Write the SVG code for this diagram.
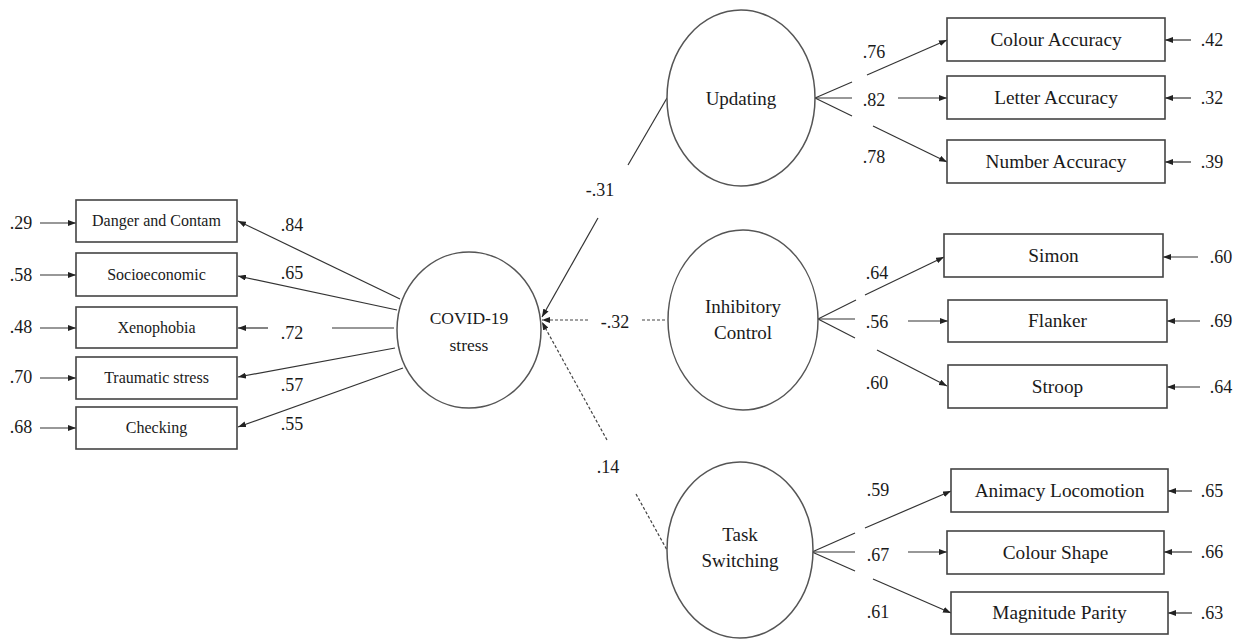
<svg xmlns="http://www.w3.org/2000/svg" width="1242" height="639" viewBox="0 0 1242 639" font-family="'Liberation Serif', 'DejaVu Serif', 'Times New Roman', serif">
<style>
text{font-family:'Liberation Serif','DejaVu Serif','Times New Roman',serif;fill:#1a1a1a;text-anchor:middle;}
.num{font-size:18px;}
.lb{font-size:16px;}
.rb{font-size:19.3px;}
.lat{font-size:19px;}
.box{fill:#fff;stroke:#444;stroke-width:1.6;}
.ell{fill:#fff;stroke:#555;stroke-width:1.5;}
.ln{stroke:#333;stroke-width:1.2;fill:none;}
.dash{stroke:#444;stroke-width:1.2;fill:none;stroke-dasharray:3 2;}
</style>
<defs>
<marker id="ah" markerUnits="userSpaceOnUse" markerWidth="8" markerHeight="6" refX="8" refY="3" orient="auto">
<path d="M0,0 L8,3 L0,6 z" fill="#222"/>
</marker>
</defs>

<g id="connectors">
<line class="ln" x1="40" y1="223" x2="76" y2="223" marker-end="url(#ah)"/>
<line class="ln" x1="40" y1="275" x2="76" y2="275" marker-end="url(#ah)"/>
<line class="ln" x1="40" y1="328" x2="76" y2="328" marker-end="url(#ah)"/>
<line class="ln" x1="40" y1="378" x2="76" y2="378" marker-end="url(#ah)"/>
<line class="ln" x1="40" y1="428" x2="76" y2="428" marker-end="url(#ah)"/>
<line class="ln" x1="400" y1="299" x2="238" y2="221" marker-end="url(#ah)"/>
<line class="ln" x1="397" y1="310" x2="238" y2="276" marker-end="url(#ah)"/>
<line class="ln" x1="394" y1="328" x2="332" y2="328"/>
<line class="ln" x1="268" y1="328" x2="238" y2="328" marker-end="url(#ah)"/>
<line class="ln" x1="395" y1="348" x2="238" y2="377" marker-end="url(#ah)"/>
<line class="ln" x1="403" y1="368" x2="238" y2="427" marker-end="url(#ah)"/>
<line class="ln" x1="667" y1="98" x2="628" y2="165"/>
<line class="ln" x1="598" y1="218" x2="542" y2="317" marker-end="url(#ah)"/>
<line class="dash" x1="588" y1="320" x2="542" y2="320" marker-end="url(#ah)"/>
<line class="dash" x1="642" y1="320" x2="667" y2="320"/>
<line class="dash" x1="607" y1="440" x2="542" y2="322" marker-end="url(#ah)"/>
<line class="dash" x1="636" y1="494" x2="667" y2="550"/>
<line class="ln" x1="815" y1="98" x2="852" y2="82"/>
<line class="ln" x1="867" y1="75" x2="947" y2="40" marker-end="url(#ah)"/>
<line class="ln" x1="815" y1="98" x2="852" y2="98"/>
<line class="ln" x1="898" y1="98" x2="947" y2="98" marker-end="url(#ah)"/>
<line class="ln" x1="815" y1="98" x2="852" y2="116"/>
<line class="ln" x1="873" y1="126" x2="947" y2="162" marker-end="url(#ah)"/>
<line class="ln" x1="818" y1="319" x2="856" y2="300"/>
<line class="ln" x1="865" y1="295" x2="944" y2="257" marker-end="url(#ah)"/>
<line class="ln" x1="818" y1="319" x2="855" y2="319"/>
<line class="ln" x1="908" y1="321" x2="948" y2="321" marker-end="url(#ah)"/>
<line class="ln" x1="818" y1="319" x2="855" y2="338"/>
<line class="ln" x1="877" y1="350" x2="947" y2="386" marker-end="url(#ah)"/>
<line class="ln" x1="812" y1="552" x2="855" y2="533"/>
<line class="ln" x1="865" y1="528" x2="951" y2="491" marker-end="url(#ah)"/>
<line class="ln" x1="812" y1="552" x2="855" y2="552"/>
<line class="ln" x1="908" y1="552" x2="947" y2="552" marker-end="url(#ah)"/>
<line class="ln" x1="812" y1="552" x2="855" y2="571"/>
<line class="ln" x1="873" y1="579" x2="951" y2="613" marker-end="url(#ah)"/>
<line class="ln" x1="1191" y1="40" x2="1165" y2="40" marker-end="url(#ah)"/>
<line class="ln" x1="1191" y1="98" x2="1165" y2="98" marker-end="url(#ah)"/>
<line class="ln" x1="1191" y1="162" x2="1165" y2="162" marker-end="url(#ah)"/>
<line class="ln" x1="1198" y1="257" x2="1163" y2="257" marker-end="url(#ah)"/>
<line class="ln" x1="1200" y1="321" x2="1167" y2="321" marker-end="url(#ah)"/>
<line class="ln" x1="1200" y1="387" x2="1167" y2="387" marker-end="url(#ah)"/>
<line class="ln" x1="1192" y1="491" x2="1168" y2="491" marker-end="url(#ah)"/>
<line class="ln" x1="1192" y1="552" x2="1164" y2="552" marker-end="url(#ah)"/>
<line class="ln" x1="1192" y1="613" x2="1168" y2="613" marker-end="url(#ah)"/>
</g>

<g id="labels">
<text class="num" x="21" y="229">.29</text>
<text class="num" x="21" y="281">.58</text>
<text class="num" x="21" y="333">.48</text>
<text class="num" x="21" y="383">.70</text>
<text class="num" x="21" y="433">.68</text>
<text class="num" x="292" y="231">.84</text>
<text class="num" x="292" y="279">.65</text>
<text class="num" x="292" y="339">.72</text>
<text class="num" x="292" y="391">.57</text>
<text class="num" x="292" y="430">.55</text>
<text class="num" x="600" y="196">-.31</text>
<text class="num" x="615" y="328">-.32</text>
<text class="num" x="608" y="473">.14</text>
<text class="num" x="874" y="58">.76</text>
<text class="num" x="874" y="106">.82</text>
<text class="num" x="874" y="163">.78</text>
<text class="num" x="877" y="279">.64</text>
<text class="num" x="877" y="328">.56</text>
<text class="num" x="877" y="389">.60</text>
<text class="num" x="878" y="496">.59</text>
<text class="num" x="878" y="561">.67</text>
<text class="num" x="878" y="618">.61</text>
<text class="num" x="1212" y="46">.42</text>
<text class="num" x="1212" y="104">.32</text>
<text class="num" x="1212" y="168">.39</text>
<text class="num" x="1221" y="263">.60</text>
<text class="num" x="1221" y="327">.69</text>
<text class="num" x="1221" y="393">.64</text>
<text class="num" x="1212" y="497">.65</text>
<text class="num" x="1212" y="558">.66</text>
<text class="num" x="1212" y="619">.63</text>
</g>

<g id="danger"><rect class="box" x="76" y="200" width="161" height="42"/><text class="lb" x="156.5" y="226">Danger and Contam</text></g>
<g id="socio"><rect class="box" x="76" y="253" width="161" height="43"/><text class="lb" x="156.5" y="280">Socioeconomic</text></g>
<g id="xeno"><rect class="box" x="76" y="307" width="161" height="41"/><text class="lb" x="156.5" y="333">Xenophobia</text></g>
<g id="trauma"><rect class="box" x="76" y="357" width="161" height="42"/><text class="lb" x="156.5" y="383">Traumatic stress</text></g>
<g id="checking"><rect class="box" x="76" y="407" width="161" height="42"/><text class="lb" x="156.5" y="433">Checking</text></g>

<g id="covid"><ellipse class="ell" cx="469" cy="330" rx="72" ry="78"/><text class="lat" x="469" y="324" style="font-size:17.5px">COVID-19</text><text class="lat" x="469" y="351" style="font-size:17.5px">stress</text></g>

<g id="updating"><ellipse class="ell" cx="741" cy="98" rx="74" ry="88"/><text class="lat" x="741" y="105">Updating</text></g>
<g id="inhibitory"><ellipse class="ell" cx="743" cy="320" rx="75" ry="90"/><text class="lat" x="743" y="313">Inhibitory</text><text class="lat" x="743" y="339">Control</text></g>
<g id="task"><ellipse class="ell" cx="740" cy="550" rx="73" ry="88"/><text class="lat" x="740" y="541">Task</text><text class="lat" x="740" y="567">Switching</text></g>

<g id="colour-acc"><rect class="box" x="947" y="18" width="218" height="43"/><text class="rb" x="1056" y="46">Colour Accuracy</text></g>
<g id="letter-acc"><rect class="box" x="947" y="76" width="218" height="43"/><text class="rb" x="1056" y="104">Letter Accuracy</text></g>
<g id="number-acc"><rect class="box" x="947" y="140" width="218" height="43"/><text class="rb" x="1056" y="168">Number Accuracy</text></g>
<g id="simon"><rect class="box" x="944" y="234" width="219" height="43"/><text class="rb" x="1053.5" y="262">Simon</text></g>
<g id="flanker"><rect class="box" x="948" y="300" width="219" height="42"/><text class="rb" x="1057.5" y="327">Flanker</text></g>
<g id="stroop"><rect class="box" x="948" y="365" width="219" height="43"/><text class="rb" x="1057.5" y="393">Stroop</text></g>
<g id="animacy"><rect class="box" x="951" y="469" width="217" height="43"/><text class="rb" x="1059.5" y="497">Animacy Locomotion</text></g>
<g id="colour-shape"><rect class="box" x="947" y="531" width="217" height="43"/><text class="rb" x="1055.5" y="559">Colour Shape</text></g>
<g id="magnitude"><rect class="box" x="951" y="592" width="217" height="42"/><text class="rb" x="1059.5" y="619">Magnitude Parity</text></g>
</svg>
